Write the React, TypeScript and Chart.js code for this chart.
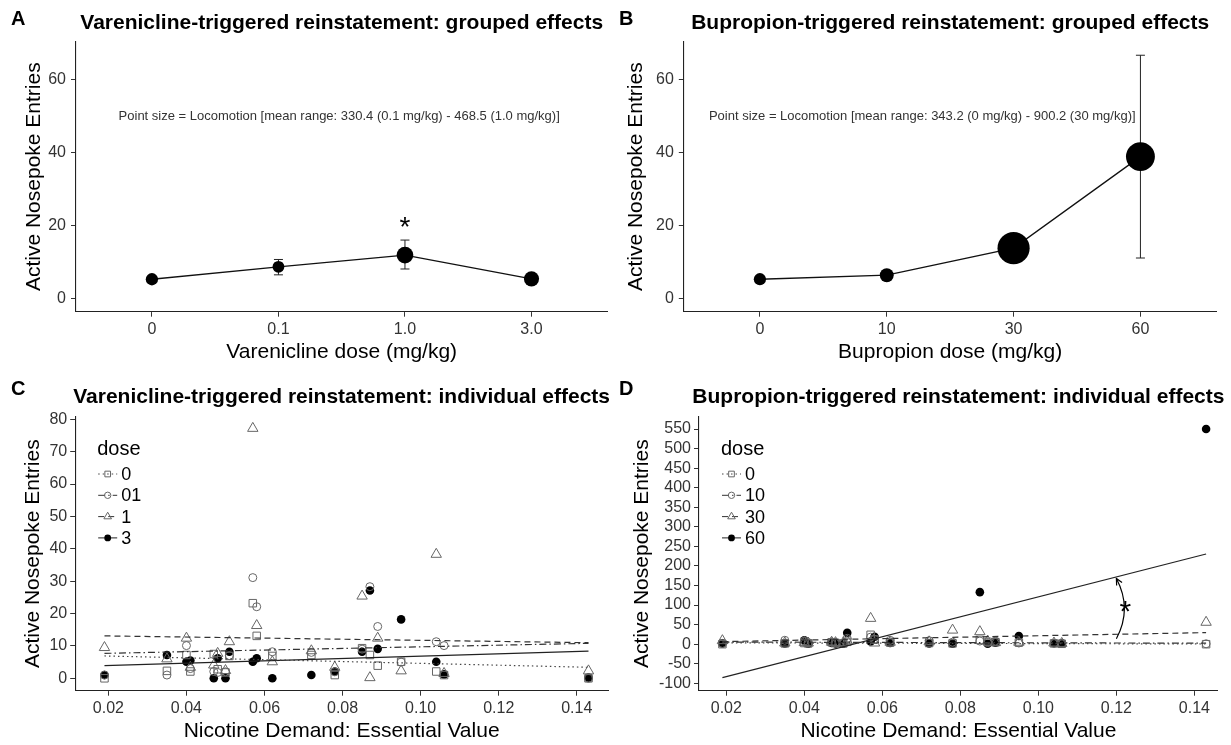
import React, { useEffect, useRef } from "react";
import { Chart, registerables } from "chart.js";
Chart.register(...registerables);

const FONT = '"Liberation Sans", Arial, Helvetica, sans-serif';
const TICK_COLOR = "#333";

// ---------- Panel A: varenicline, grouped ----------
const vDoseLabels = ["0", "0.1", "1.0", "3.0"];
const vMeans = [5.4, 8.8, 12.0, 5.5];
const vErrLow = [4.9, 6.6, 8.2, 5.0];
const vErrHigh = [5.9, 10.8, 16.1, 6.1];
const vLocomotion = [345, 330.4, 468.5, 425];
const vAsterisk = { x: 2, y: 21.6 };
const vNote = "Point size = Locomotion [mean range: 330.4 (0.1 mg/kg) - 468.5 (1.0 mg/kg)]";
const vNoteAt = { x: 1.48, y: 50 };

// ---------- Panel B: bupropion, grouped ----------
const bDoseLabels = ["0", "10", "30", "60"];
const bMeans = [5.4, 6.5, 13.9, 38.9];
const bErrLow = [4.9, 5.8, 11.5, 11.2];
const bErrHigh = [5.9, 7.2, 16.3, 66.6];
const bLocomotion = [343.2, 390, 900.2, 810];
const bNote = "Point size = Locomotion [mean range: 343.2 (0 mg/kg) - 900.2 (30 mg/kg)]";
const bNoteAt = { x: 1.28, y: 50 };

const groupedYTicks = [0, 20, 40, 60];

// ---------- Panels C & D: individual effects ----------
const subjectEV = [0.019, 0.035, 0.040, 0.041, 0.047, 0.048, 0.050, 0.051, 0.057, 0.058, 0.062, 0.072, 0.078, 0.085, 0.087, 0.089, 0.095, 0.104, 0.106, 0.143];
const evTicks = [0.02, 0.04, 0.06, 0.08, 0.1, 0.12, 0.14];

const vIndDoses = ["0", "01", "1", "3"];
const vInd0 = [0, 2.3, 7.2, 2.1, 7.5, 2.8, 1.8, 6.9, 23.2, 13.1, 6.9, 7.2, 1.0, 9.3, 7.2, 3.9, 5.1, 2.1, 1.0, 0];
const vInd01 = [1, 1, 10.1, 3, 2.1, 1.8, 2, 7, 31.1, 22.1, 8.2, 8, 2, 9, 28.3, 16, 5, 11.3, 10.1, 0];
const vInd1 = [9.5, 6, 12.4, 3.4, 4.1, 7.7, 2.4, 11.3, 77.2, 16.3, 5.1, 8.5, 3.4, 25.4, 0.2, 12.4, 2.3, 38.3, 1.5, 2.3];
const vInd3 = [1, 7.2, 5.1, 5.5, 0, 6.2, 0, 8.2, 5.1, 6.2, 0, 1, 2.1, 8.2, 27.1, 9.1, 18.2, 5.1, 1.2, 0.2];
const fitEV = [0.019, 0.143];
const vFit0 = [6.9, 3.4];
const vFit01 = [7.7, 10.8];
const vFit1 = [13.1, 11.0];
const vFit3 = [3.9, 8.4];
const vIndYTicks = [0, 10, 20, 30, 40, 50, 60, 70, 80];

const bIndDoses = ["0", "10", "30", "60"];
const bInd0 = [0, 2, 3, 2, 5, 3, 2, 6, 24, 12, 4, 3, 2, 11, 6, 5, 4, 2, 1, 0];
const bInd10 = [2, 10, 8, 4, 6, 4, 3, 15, 18, 12, 10, 9, 5, 8, 4, 8, 3, 2, 2, 1];
const bInd30 = [9, 3, 4, 3, 5, 4, 4, 8, 66, 3, 5, 6, 36, 32, 8, 4, 5, 3, 2, 56];
const bInd60 = [2, 2, 10, 1, 3, 2, 1, 29, 7, 19, 3, 2, 1, 133, 1, 4, 21, 3, 2, 550];
const bFit0 = [3.5, 0.5];
const bFit10 = [5.5, 2.5];
const bFit30 = [6.6, 29.6];
const bFit60 = [-85.5, 230.5];
const bIndYTicks = [-100, -50, 0, 50, 100, 150, 200, 250, 300, 350, 400, 450, 500, 550];
const bArrow = { x: 0.12, from: 14, to: 168 };
const bAsterisk = { x: 0.1223, y: 103 };

// ---------- styles ----------
type DoseStyle = { shape: string; filled: boolean; color: string; dash: number[]; lineColor: string; radius: number; legendRadius: number };
const doseStyles: DoseStyle[] = [
  { shape: "rect", filled: false, color: "#666", dash: [1.5, 3], lineColor: "#444", radius: 5.3, legendRadius: 4 },
  { shape: "circle", filled: false, color: "#666", dash: [7, 3, 1.5, 3], lineColor: "#333", radius: 4, legendRadius: 3.2 },
  { shape: "triangle", filled: false, color: "#666", dash: [6, 4], lineColor: "#333", radius: 6, legendRadius: 4.4 },
  { shape: "circle", filled: true, color: "#000", dash: [], lineColor: "#222", radius: 4.3, legendRadius: 3.4 },
];

const locoToRadius = (v: number) => v / 56;

function drawMarker(ctx: CanvasRenderingContext2D, st: DoseStyle, x: number, y: number, r: number) {
  ctx.beginPath();
  if (st.shape === "circle") ctx.arc(x, y, r, 0, Math.PI * 2);
  else if (st.shape === "rect") {
    const s = r * Math.SQRT1_2;
    ctx.rect(x - s, y - s, 2 * s, 2 * s);
  } else {
    ctx.moveTo(x, y - r);
    ctx.lineTo(x + r * 0.866, y + r * 0.5);
    ctx.lineTo(x - r * 0.866, y + r * 0.5);
    ctx.closePath();
  }
  if (st.filled) {
    ctx.fillStyle = st.color;
    ctx.fill();
  } else {
    ctx.fillStyle = "#fff";
    ctx.strokeStyle = st.color;
    ctx.lineWidth = 1;
    ctx.stroke();
  }
}

function drawTitle(chart: any, letter: string, title: string, titleY: number, letterX: number, letterY: number) {
  const { ctx, chartArea } = chart;
  ctx.save();
  ctx.fillStyle = "#000";
  ctx.font = `bold 21px ${FONT}`;
  ctx.textAlign = "center";
  ctx.textBaseline = "middle";
  ctx.fillText(title, (chartArea.left + chartArea.right) / 2, titleY);
  ctx.textAlign = "left";
  ctx.font = `bold 20px ${FONT}`;
  ctx.fillText(letter, letterX, letterY);
  ctx.restore();
}

function drawErrorBars(chart: any, lows: number[], highs: number[], cap: number) {
  const { ctx, scales } = chart;
  ctx.save();
  ctx.strokeStyle = "#222";
  ctx.lineWidth = 1;
  lows.forEach((lo, i) => {
    const px = scales.x.getPixelForValue(i);
    const p1 = scales.y.getPixelForValue(lo);
    const p2 = scales.y.getPixelForValue(highs[i]);
    ctx.beginPath();
    ctx.moveTo(px, p1);
    ctx.lineTo(px, p2);
    ctx.moveTo(px - cap / 2, p1);
    ctx.lineTo(px + cap / 2, p1);
    ctx.moveTo(px - cap / 2, p2);
    ctx.lineTo(px + cap / 2, p2);
    ctx.stroke();
  });
  ctx.restore();
}

function drawNote(chart: any, text: string, at: { x: number; y: number }) {
  const { ctx, scales } = chart;
  ctx.save();
  ctx.fillStyle = "#333";
  ctx.font = `13px ${FONT}`;
  ctx.textAlign = "center";
  ctx.textBaseline = "middle";
  ctx.fillText(text, scales.x.getPixelForValue(at.x), scales.y.getPixelForValue(at.y));
  ctx.restore();
}

function drawAsterisk(chart: any, at: { x: number; y: number }, size: number) {
  const { ctx, scales } = chart;
  ctx.save();
  ctx.fillStyle = "#000";
  ctx.font = `${size}px ${FONT}`;
  ctx.textAlign = "center";
  ctx.textBaseline = "alphabetic";
  ctx.fillText("*", scales.x.getPixelForValue(at.x), scales.y.getPixelForValue(at.y) + 0.58 * size);
  ctx.restore();
}

function drawDoseLegend(chart: any, labels: string[]) {
  const { ctx, chartArea: a } = chart;
  ctx.save();
  ctx.fillStyle = "#000";
  ctx.textAlign = "left";
  ctx.textBaseline = "middle";
  ctx.font = `20px ${FONT}`;
  ctx.fillText("dose", a.left + 22, a.top + 32.6);
  labels.forEach((lab, i) => {
    const yy = a.top + 57.3 + i * 21.3;
    const st = doseStyles[i];
    ctx.strokeStyle = st.lineColor;
    ctx.lineWidth = 1;
    ctx.setLineDash(st.dash);
    ctx.beginPath();
    ctx.moveTo(a.left + 23, yy);
    ctx.lineTo(a.left + 42, yy);
    ctx.stroke();
    ctx.setLineDash([]);
    drawMarker(ctx, st, a.left + 32.5, yy, st.legendRadius);
    ctx.fillStyle = "#000";
    ctx.font = `18px ${FONT}`;
    ctx.fillText(lab, a.left + 46, yy + 1);
  });
  ctx.restore();
}

function drawArrow(chart: any) {
  const { ctx, scales } = chart;
  const x = scales.x.getPixelForValue(bArrow.x);
  const y0 = scales.y.getPixelForValue(bArrow.from);
  const y1 = scales.y.getPixelForValue(bArrow.to);
  const cx = x + 16;
  const cy = (y0 + y1) / 2;
  ctx.save();
  ctx.strokeStyle = "#000";
  ctx.lineWidth = 1.2;
  ctx.beginPath();
  ctx.moveTo(x, y0);
  ctx.quadraticCurveTo(cx, cy, x, y1);
  ctx.stroke();
  const ang = Math.atan2(y1 - cy, x - cx);
  const L = 7;
  ctx.beginPath();
  ctx.moveTo(x + L * Math.cos(ang + Math.PI - 0.45), y1 + L * Math.sin(ang + Math.PI - 0.45));
  ctx.lineTo(x, y1);
  ctx.lineTo(x + L * Math.cos(ang + Math.PI + 0.45), y1 + L * Math.sin(ang + Math.PI + 0.45));
  ctx.stroke();
  ctx.restore();
}

const axisCommon = (opts: any) => ({
  type: "linear",
  grid: { display: true, drawOnChartArea: false, drawTicks: true, tickLength: 5, color: "#333", lineWidth: 1 },
  border: { display: true, color: "#222", width: 1.1 },
  ...opts,
});

function groupedConfig(p: {
  labels: string[]; means: number[]; lows: number[]; highs: number[]; loco: number[];
  xTitle: string; note: string; noteAt: any; letter: string; title: string;
  canvasW: number; canvasH: number; left: number; right: number; top: number; bottom: number;
  yTitleX: number; asterisk?: any;
}) {
  return {
    type: "line",
    data: {
      datasets: [
        {
          data: p.means.map((m, i) => ({ x: i, y: m })),
          borderColor: "#111",
          borderWidth: 1.3,
          backgroundColor: "#000",
          pointBackgroundColor: "#000",
          pointBorderWidth: 0,
          pointRadius: p.loco.map(locoToRadius),
          tension: 0,
        },
      ],
    },
    options: {
      animation: false,
      responsive: false,
      events: [],
      layout: { padding: { left: 0, top: p.top, right: p.canvasW - p.right, bottom: 0 } },
      plugins: { legend: { display: false }, tooltip: { enabled: false }, title: { display: false } },
      scales: {
        x: axisCommon({
          min: -0.6,
          max: 3.6,
          afterFit: (s: any) => { s.height = p.canvasH - p.bottom; },
          afterBuildTicks: (s: any) => { s.ticks = p.labels.map((_, i) => ({ value: i })); },
          ticks: { callback: (v: any) => p.labels[v], font: { family: FONT, size: 16 }, color: TICK_COLOR, padding: 3.7, autoSkip: false, maxRotation: 0 },
          title: { display: true, text: p.xTitle, font: { family: FONT, size: 21 }, color: "#000", padding: { top: 0, bottom: p.canvasH - 352 - 12.6 } },
        }),
        y: axisCommon({
          min: -3.47,
          max: 70.3,
          afterFit: (s: any) => { s.width = p.left; },
          afterBuildTicks: (s: any) => { s.ticks = groupedYTicks.map((v) => ({ value: v })); },
          ticks: { font: { family: FONT, size: 16 }, color: TICK_COLOR, padding: 5, autoSkip: false },
          title: { display: true, text: "Active Nosepoke Entries", font: { family: FONT, size: 21 }, color: "#000", padding: { top: p.yTitleX - 12.6, bottom: 0 } },
        }),
      },
    },
    plugins: [
      {
        id: "decor",
        beforeDatasetsDraw(chart: any) { drawErrorBars(chart, p.lows, p.highs, 9); },
        afterDraw(chart: any) {
          drawNote(chart, p.note, p.noteAt);
          if (p.asterisk) drawAsterisk(chart, p.asterisk, 28);
          drawTitle(chart, p.letter, p.title, 23.3, p.letter === "A" ? 11 : 4, 19.5);
        },
      },
    ],
  };
}

function individualConfig(p: {
  series: number[][]; fits: number[][]; doseLabels: string[]; yTicks: number[]; yMin: number; yMax: number;
  xMin: number; xMax: number; letter: string; title: string; canvasW: number; canvasH: number;
  left: number; right: number; top: number; bottom: number; yTitleX: number; extra?: (c: any) => void;
}) {
  const fitSets = p.fits.map((f, i) => ({
    type: "line",
    data: fitEV.map((x, j) => ({ x, y: f[j] })),
    borderColor: doseStyles[i].lineColor,
    borderWidth: 1.2,
    borderDash: doseStyles[i].dash,
    pointRadius: 0,
    showLine: true,
    fill: false,
    order: 0,
  }));
  const pointSets = p.series.map((s, i) => ({
    type: "scatter",
    data: subjectEV.map((x, j) => ({ x, y: s[j] })),
    pointStyle: doseStyles[i].shape,
    pointRadius: doseStyles[i].radius,
    pointBorderWidth: doseStyles[i].filled ? 0 : 1,
    pointBorderColor: doseStyles[i].color,
    pointBackgroundColor: doseStyles[i].filled ? doseStyles[i].color : "rgba(0,0,0,0)",
    showLine: false,
    order: 1,
  }));
  return {
    type: "scatter",
    data: { datasets: [...pointSets, ...fitSets] },
    options: {
      animation: false,
      responsive: false,
      events: [],
      layout: { padding: { left: 0, top: p.top, right: p.canvasW - p.right, bottom: 0 } },
      plugins: { legend: { display: false }, tooltip: { enabled: false }, title: { display: false } },
      scales: {
        x: axisCommon({
          min: p.xMin,
          max: p.xMax,
          afterFit: (s: any) => { s.height = p.canvasH - p.bottom; },
          afterBuildTicks: (s: any) => { s.ticks = evTicks.map((v) => ({ value: v })); },
          ticks: { callback: (v: any) => Number(v).toFixed(2), font: { family: FONT, size: 16 }, color: TICK_COLOR, padding: 3, autoSkip: false, maxRotation: 0 },
          title: { display: true, text: "Nicotine Demand: Essential Value", font: { family: FONT, size: 21 }, color: "#000", padding: { top: 0, bottom: 0.7 } },
        }),
        y: axisCommon({
          min: p.yMin,
          max: p.yMax,
          afterFit: (s: any) => { s.width = p.left; },
          afterBuildTicks: (s: any) => { s.ticks = p.yTicks.map((v) => ({ value: v })); },
          ticks: { font: { family: FONT, size: 16 }, color: TICK_COLOR, padding: 3, autoSkip: false },
          title: { display: true, text: "Active Nosepoke Entries", font: { family: FONT, size: 21 }, color: "#000", padding: { top: p.yTitleX - 12.6, bottom: 0 } },
        }),
      },
    },
    plugins: [
      {
        id: "decor",
        afterDraw(chart: any) {
          drawDoseLegend(chart, p.doseLabels);
          if (p.extra) p.extra(chart);
          drawTitle(chart, p.letter, p.title, 25.3, p.letter === "C" ? 11 : 4, 17);
        },
      },
    ],
  };
}

function Panel({ left, top, width, height, make }: { left: number; top: number; width: number; height: number; make: () => any }) {
  const ref = useRef<HTMLCanvasElement>(null);
  useEffect(() => {
    const chart = new Chart(ref.current as HTMLCanvasElement, make());
    return () => chart.destroy();
  }, []);
  return (
    <canvas
      ref={ref}
      width={width}
      height={height}
      style={{ position: "absolute", left, top, width, height, display: "block" }}
    />
  );
}

export default function App() {
  return (
    <div style={{ position: "absolute", left: 0, top: 0, width: 1231, height: 745, background: "#fff", overflow: "hidden" }}>
      <Panel
        left={0} top={0} width={615} height={372}
        make={() =>
          groupedConfig({
            labels: vDoseLabels, means: vMeans, lows: vErrLow, highs: vErrHigh, loco: vLocomotion,
            xTitle: "Varenicline dose (mg/kg)", note: vNote, noteAt: vNoteAt, letter: "A",
            title: "Varenicline-triggered reinstatement: grouped effects",
            canvasW: 615, canvasH: 372, left: 76, right: 611, top: 41.7, bottom: 311.7, yTitleX: 34, asterisk: vAsterisk,
          })
        }
      />
      <Panel
        left={615} top={0} width={616} height={372}
        make={() =>
          groupedConfig({
            labels: bDoseLabels, means: bMeans, lows: bErrLow, highs: bErrHigh, loco: bLocomotion,
            xTitle: "Bupropion dose (mg/kg)", note: bNote, noteAt: bNoteAt, letter: "B",
            title: "Bupropion-triggered reinstatement: grouped effects",
            canvasW: 616, canvasH: 372, left: 68.8, right: 602.8, top: 41.7, bottom: 311.7, yTitleX: 21,
          })
        }
      />
      <Panel
        left={0} top={372} width={615} height={373}
        make={() =>
          individualConfig({
            series: [vInd0, vInd01, vInd1, vInd3], fits: [vFit0, vFit01, vFit1, vFit3], doseLabels: vIndDoses,
            yTicks: vIndYTicks, yMin: -3.83, yMax: 80.8, xMin: 0.0115, xMax: 0.148, letter: "C",
            title: "Varenicline-triggered reinstatement: individual effects",
            canvasW: 615, canvasH: 373, left: 75.2, right: 611.2, top: 44.7, bottom: 318.7, yTitleX: 33,
          })
        }
      />
      <Panel
        left={615} top={372} width={616} height={373}
        make={() =>
          individualConfig({
            series: [bInd0, bInd10, bInd30, bInd60], fits: [bFit0, bFit10, bFit30, bFit60], doseLabels: bIndDoses,
            yTicks: bIndYTicks, yMin: -118.9, yMax: 581.5, xMin: 0.013, xMax: 0.146, letter: "D",
            title: "Bupropion-triggered reinstatement: individual effects",
            canvasW: 616, canvasH: 373, left: 84, right: 602.8, top: 44.7, bottom: 318.7, yTitleX: 27,
            extra: (c: any) => { drawArrow(c); drawAsterisk(c, bAsterisk, 30); },
          })
        }
      />
    </div>
  );
}
